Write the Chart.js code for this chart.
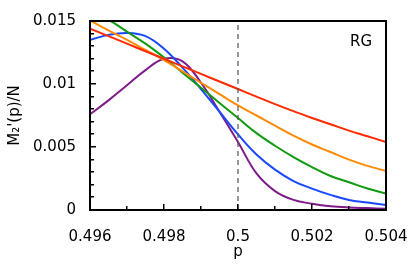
<!DOCTYPE html>
<html>
<head>
<meta charset="utf-8">
<script src="https://cdn.jsdelivr.net/npm/chart.js@4/dist/chart.umd.min.js"></script>
<style>
  html, body { margin: 0; padding: 0; background: #ffffff; }
  #wrap { width: 415px; height: 273px; }
</style>
</head>
<body>
<div id="wrap"><canvas id="c" width="415" height="273"></canvas></div>
<script>
// ---- data ----
const pValues = [0.496, 0.4965, 0.497, 0.4975, 0.498, 0.4985, 0.499, 0.4995, 0.5,
                 0.5005, 0.501, 0.5015, 0.502, 0.5025, 0.503, 0.5035, 0.504];
const redSeries    = [0.0144, 0.0138, 0.0132, 0.0126, 0.0120, 0.0114, 0.0108, 0.0102, 0.0096,
                      0.0090, 0.0084, 0.00785, 0.0073, 0.0068, 0.0063, 0.00585, 0.0054];
const orangeSeries = [0.01505, 0.01425, 0.0135, 0.0127, 0.0119, 0.0110, 0.0101, 0.0092, 0.0083,
                      0.0075, 0.0067, 0.0059, 0.0052, 0.0046, 0.0040, 0.0035, 0.0031];
const greenSeries  = [0.0158, 0.0151, 0.01415, 0.0132, 0.0121, 0.0109, 0.0097, 0.0085, 0.0073,
                      0.0061, 0.0051, 0.0042, 0.0034, 0.0027, 0.0022, 0.0017, 0.0013];
const blueSeries   = [0.0135, 0.0139, 0.01405, 0.0138, 0.0128, 0.0113, 0.0096, 0.0078, 0.0060,
                      0.0044, 0.0032, 0.0023, 0.0017, 0.0012, 0.0008, 0.0006, 0.0004];
const purpleSeries = [0.0076, 0.0087, 0.0099, 0.0111, 0.0120, 0.0118, 0.0101, 0.0078, 0.0054,
                      0.0029, 0.0015, 0.0008, 0.0005, 0.0003, 0.0002, 0.00015, 0.0001];
const criticalX = [0.5, 0.5];
const criticalY = [0, 0.015];

const xTickValues = [0.496, 0.498, 0.5, 0.502, 0.504];
const xTickLabels = ['0.496', '0.498', '0.5', '0.502', '0.504'];
const xMinorTicks = [0.496, 0.497, 0.498, 0.499, 0.5, 0.501, 0.502, 0.503, 0.504];
const yTickValues = [0, 0.005, 0.01, 0.015];
const yTickLabels = ['0', '0.005', '0.01', '0.015'];
const yMinorTicks = [0, 0.001, 0.002, 0.003, 0.004, 0.005, 0.006, 0.007, 0.008, 0.009,
                     0.010, 0.011, 0.012, 0.013, 0.014, 0.015];
const xTitle = 'p';
const yTitle = 'M\u2082\'(p)/N';
const panelLabel = 'RG';

// ---- chart ----
const FONT = 'DejaVu Sans';
const toPts = (ys) => ys.map((y, i) => ({x: pValues[i], y: y}));
const seriesDefs = [
  {data: redSeries,    color: '#ff2a00'},
  {data: orangeSeries, color: '#ff8a00'},
  {data: greenSeries,  color: '#109a10'},
  {data: blueSeries,   color: '#1848ff'},
  {data: purpleSeries, color: '#7d1c88'}
];

const datasets = seriesDefs.map(s => ({
  data: toPts(s.data),
  borderColor: s.color,
  borderWidth: 2,
  pointRadius: 0,
  tension: 0.4,
  fill: false,
  clip: 0
}));
datasets.unshift({
  data: criticalX.map((x, i) => ({x: x, y: criticalY[i]})),
  borderColor: '#555555',
  borderWidth: 1.2,
  borderDash: [5, 4],
  pointRadius: 0,
  fill: false,
  clip: 0
});

const frameAndTicks = {
  id: 'frameAndTicks',
  afterDraw(chart) {
    const {ctx, chartArea: a, scales: {x, y}} = chart;
    const L = Math.round(a.left), R = Math.round(a.right);
    const T = Math.round(a.top), B = Math.round(a.bottom);
    ctx.save();
    ctx.setLineDash([]);
    ctx.fillStyle = '#000000';
    xMinorTicks.forEach(v => {
      const px = Math.round(x.getPixelForValue(v));
      const major = xTickValues.some(t => Math.abs(t - v) < 1e-9);
      const len = major ? 6 : 4;
      ctx.fillRect(px - 1, B - len, 1.5, len);
    });
    yMinorTicks.forEach(v => {
      const py = Math.round(y.getPixelForValue(v));
      const major = yTickValues.some(t => Math.abs(t - v) < 1e-9);
      const len = major ? 6 : 4;
      ctx.fillRect(L, py - 1, len, 1.5);
    });
    // frame, 2 px, pixel aligned
    ctx.fillRect(L - 1, T - 1, R - L + 2, 2);
    ctx.fillRect(L - 1, B - 1, R - L + 2, 2);
    ctx.fillRect(L - 1, T - 1, 2, B - T + 2);
    ctx.fillRect(R - 1, T - 1, 2, B - T + 2);
    ctx.font = '15px "' + FONT + '"';
    ctx.textAlign = 'right';
    ctx.textBaseline = 'alphabetic';
    ctx.fillText(panelLabel, a.right - 14, a.top + 25);
    ctx.restore();
  }
};

new Chart(document.getElementById('c'), {
  type: 'line',
  data: {datasets: datasets},
  options: {
    responsive: false,
    animation: false,
    events: [],
    layout: {padding: {left: 0, right: 29, top: 21, bottom: 0}},
    plugins: {legend: {display: false}, tooltip: {enabled: false}},
    scales: {
      x: {
        type: 'linear',
        min: 0.496,
        max: 0.504,
        afterBuildTicks: (s) => { s.ticks = xTickValues.map(v => ({value: v})); },
        afterFit: (s) => { s.height = 63; s.paddingLeft = 0; s.paddingRight = 0; },
        ticks: {
          autoSkip: false,
          maxRotation: 0,
          padding: 18,
          color: '#000',
          font: {family: FONT, size: 15},
          callback: (v, i) => xTickLabels[i]
        },
        grid: {display: false, drawTicks: false},
        border: {display: false},
        title: {display: true, text: xTitle, color: '#000', font: {family: FONT, size: 15},
                padding: {top: 0, bottom: 12}}
      },
      y: {
        type: 'linear',
        min: 0,
        max: 0.015,
        afterBuildTicks: (s) => { s.ticks = yTickValues.map(v => ({value: v})); },
        afterFit: (s) => { s.width = 90; s.paddingTop = 0; s.paddingBottom = 0; },
        ticks: {
          padding: 14,
          color: '#000',
          font: {family: FONT, size: 15},
          callback: (v, i) => yTickLabels[i]
        },
        grid: {display: false, drawTicks: false},
        border: {display: false},
        title: {display: true, text: yTitle, color: '#000', font: {family: FONT, size: 15},
                padding: {top: 6, bottom: 0}}
      }
    }
  },
  plugins: [frameAndTicks]
});
</script>
</body>
</html>
